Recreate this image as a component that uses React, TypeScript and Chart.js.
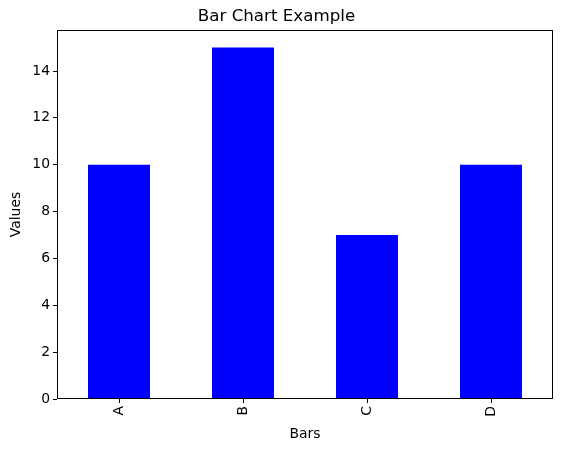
import React, { useEffect, useRef } from "react";
import { Chart, registerables } from "chart.js";

Chart.register(...registerables);

const categories = ["A", "B", "C", "D"];
const values = [10, 15, 7, 10];
const yTicks = [0, 2, 4, 6, 8, 10, 12, 14];
const yMax = 15.75;
const titleText = "Bar Chart Example";
const xLabel = "Bars";
const yLabel = "Values";

const FONT = "'DejaVu Sans', sans-serif";

const frame = {
  id: "frame",
  afterDraw(chart: any) {
    const { ctx, chartArea } = chart;
    ctx.save();
    ctx.strokeStyle = "#000";
    ctx.lineWidth = 1;
    const l = Math.round(chartArea.left) + 0.5;
    const t = Math.round(chartArea.top) + 0.5;
    const r = Math.round(chartArea.right) - 0.5;
    const b = Math.round(chartArea.bottom) - 0.5;
    ctx.strokeRect(l, t, r - l, b - t);
    ctx.restore();
  },
};

export default function App() {
  const ref = useRef<HTMLCanvasElement | null>(null);
  useEffect(() => {
    document.body.style.margin = "0";
    Chart.defaults.color = "#000";
    const chart = new Chart(ref.current!, {
      type: "bar",
      data: {
        labels: categories,
        datasets: [
          {
            data: values,
            backgroundColor: "#0000ff",
            borderWidth: 0,
            barPercentage: 0.5,
            categoryPercentage: 1.0,
          },
        ],
      },
      plugins: [frame],
      options: {
        responsive: false,
        animation: false,
        devicePixelRatio: 1,
        layout: { padding: { left: 0, right: 10, top: 0, bottom: 0 } },
        plugins: {
          legend: { display: false },
          tooltip: { enabled: false },
          title: {
            display: true,
            text: titleText,
            color: "#000",
            font: { family: FONT, size: 16.7, weight: "normal" },
            padding: { top: 7, bottom: 3 },
          },
        },
        scales: {
          x: {
            offset: true,
            afterFit(scale: any) {
              scale.height = 50;
            },
            grid: {
              display: true,
              drawOnChartArea: false,
              drawTicks: true,
              tickLength: 4,
              color: "#000",
              offset: false,
            },
            border: { display: false },
            ticks: {
              minRotation: 90,
              maxRotation: 90,
              padding: 3,
              color: "#000",
              font: { family: FONT, size: 13.9 },
            },
            title: {
              display: true,
              text: xLabel,
              color: "#000",
              font: { family: FONT, size: 13.9 },
              padding: { top: 0, bottom: 6 },
            },
          },
          y: {
            min: 0,
            max: yMax,
            afterFit(scale: any) {
              scale.width = 57;
            },
            afterBuildTicks(scale: any) {
              scale.ticks = yTicks.map((v) => ({ value: v }));
            },
            grid: {
              display: true,
              drawOnChartArea: false,
              drawTicks: true,
              tickLength: 4,
              color: "#000",
            },
            border: { display: false },
            ticks: {
              padding: 3,
              color: "#000",
              font: { family: FONT, size: 13.9 },
            },
            title: {
              display: true,
              text: yLabel,
              color: "#000",
              font: { family: FONT, size: 13.9 },
              padding: { top: 8, bottom: 0 },
            },
          },
        },
      },
    } as any);
    return () => chart.destroy();
  }, []);
  return (
    <div style={{ position: "absolute", left: 0, top: 0, width: 563, height: 449, background: "#fff" }}>
      <canvas ref={ref} width={563} height={449} />
    </div>
  );
}
